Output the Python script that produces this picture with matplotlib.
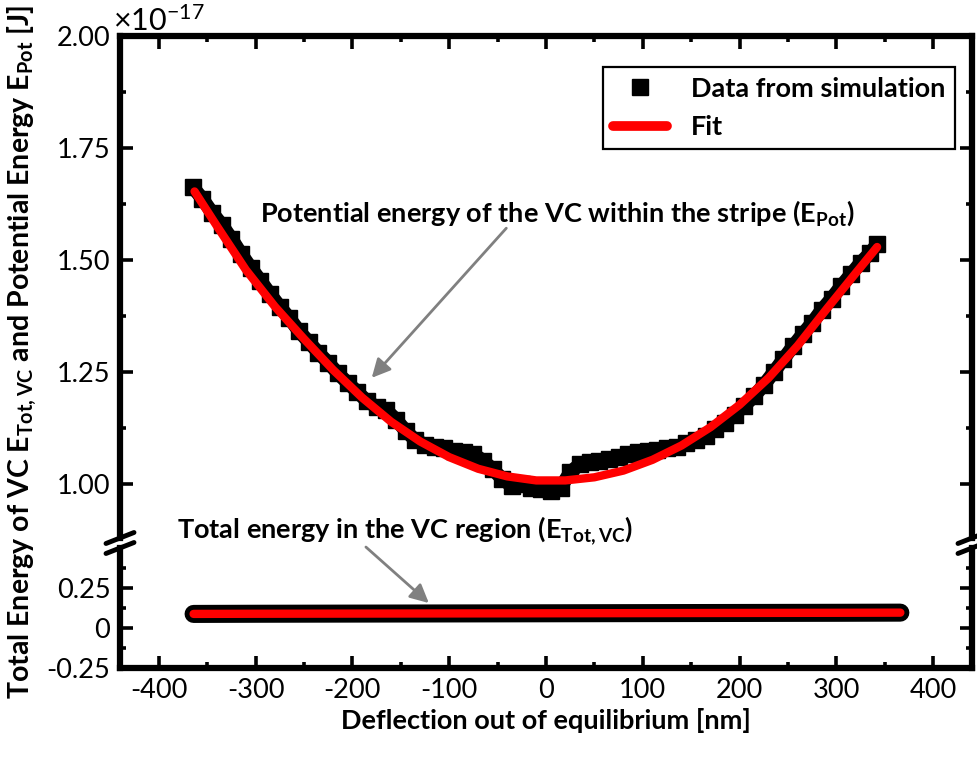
import numpy as np
import matplotlib
matplotlib.use('Agg')
import matplotlib.pyplot as plt
from matplotlib.lines import Line2D
from matplotlib.ticker import MultipleLocator, FixedLocator, FuncFormatter

plt.rcParams['font.family'] = ['Lato', 'DejaVu Sans']
plt.rcParams['mathtext.default'] = 'regular'
plt.rcParams['axes.unicode_minus'] = False

# potential energy (x1e-17 J) vs deflection [nm]
pot_x = [-365, -355, -345, -335, -325, -315, -305, -295, -285, -275, -265, -255,
         -245, -235, -225, -215, -205, -195, -185, -175, -165, -155, -145, -135,
         -125, -115, -105, -95, -85, -75, -65, -55, -45, -35, -25, -15, -5, 5,
         15, 25, 35, 45, 55, 65, 75, 85, 95, 105, 115, 125, 135, 145, 155, 165,
         175, 185, 195, 205, 215, 225, 235, 245, 255, 265, 275, 285, 295, 305,
         315, 325, 335, 342]
pot_y = [1.663, 1.637, 1.606, 1.579, 1.548, 1.514, 1.483, 1.454, 1.424, 1.396,
         1.370, 1.341, 1.317, 1.293, 1.271, 1.247, 1.226, 1.206, 1.185, 1.172,
         1.165, 1.144, 1.119, 1.098, 1.088, 1.083, 1.080, 1.074, 1.072, 1.067,
         1.052, 1.033, 1.011, 0.995, 1.001, 0.990, 0.988, 0.985, 0.992, 1.026,
         1.044, 1.050, 1.052, 1.055, 1.060, 1.067, 1.072, 1.074, 1.076, 1.080,
         1.083, 1.091, 1.098, 1.108, 1.122, 1.136, 1.155, 1.175, 1.196, 1.221,
         1.249, 1.278, 1.307, 1.334, 1.360, 1.389, 1.414, 1.442, 1.468, 1.494,
         1.516, 1.535]

pot_fit_x = [-363, -340, -310, -280, -250, -220, -190, -160, -130, -100, -70, -40,
             -10, 20, 50, 80, 110, 140, 170, 200, 230, 260, 290, 320, 342]
pot_fit_y = [1.653, 1.576, 1.478, 1.396, 1.324, 1.255, 1.193, 1.139, 1.095, 1.060,
             1.034, 1.017, 1.008, 1.008, 1.015, 1.030, 1.054, 1.086, 1.127, 1.177,
             1.237, 1.309, 1.391, 1.471, 1.529]

# total energy in VC region
tot_x = [-364, -300, -200, -100, 0, 100, 200, 300, 366]
tot_y = [0.088, 0.089, 0.090, 0.091, 0.092, 0.093, 0.094, 0.095, 0.096]
tot_fit_y = [0.088, 0.089, 0.090, 0.091, 0.092, 0.093, 0.094, 0.095, 0.096]

W, H = 978, 760
fig = plt.figure(figsize=(W / 100, H / 100), dpi=100)

def fx(px):
    return px / W

def fy(py):
    return 1 - py / H

L, R = 120, 972
ax1 = fig.add_axes([fx(L), fy(538), fx(R) - fx(L), fy(36) - fy(538)])
ax2 = fig.add_axes([fx(L), fy(668), fx(R) - fx(L), fy(548) - fy(668)])

spw = 4.5
for ax in (ax1, ax2):
    for s in ax.spines.values():
        s.set_linewidth(spw)
    ax.set_xlim(-440, 440)
    ax.xaxis.set_major_locator(MultipleLocator(100))
    ax.xaxis.set_minor_locator(MultipleLocator(50))
    ax.tick_params(which='both', direction='in', width=2.6, labelsize=19.5,
                   right=True)
    ax.tick_params(which='major', length=9, pad=7)
    ax.tick_params(which='minor', length=4.5)

ax1.spines['bottom'].set_visible(False)
ax2.spines['top'].set_visible(False)
ax1.tick_params(axis='x', which='both', bottom=False, top=True, labelbottom=False)
ax2.tick_params(axis='x', which='both', top=False, bottom=True)

ax1.set_ylim(0.8795, 2.0)
ax1.yaxis.set_major_locator(MultipleLocator(0.25))
ax1.yaxis.set_minor_locator(MultipleLocator(0.125))
ax1.yaxis.set_major_formatter(FuncFormatter(lambda v, p: '%.2f' % v))

ax2.set_ylim(-0.25, 0.5)
ax2.yaxis.set_major_locator(FixedLocator([-0.25, 0, 0.25]))
ax2.yaxis.set_minor_locator(FixedLocator([-0.125, 0.125, 0.375]))
ax2.yaxis.set_major_formatter(FuncFormatter(
    lambda v, p: '0' if abs(v) < 1e-9 else ('%.2f' % v)))

# data + fit
ax1.plot(pot_x, pot_y, color='black', lw=10, marker='s', ms=11,
         solid_capstyle='butt', zorder=2)
ax1.plot(pot_fit_x, pot_fit_y, color='red', lw=6, solid_capstyle='round', zorder=3)
ax2.plot(tot_x, tot_y, color='black', lw=13, solid_capstyle='round', zorder=2)
ax2.plot(tot_x, tot_fit_y, color='red', lw=6, solid_capstyle='round', zorder=3)

# legend
h_data = Line2D([], [], color='black', marker='s', ms=11, ls='none')
h_fit = Line2D([], [], color='red', lw=7, solid_capstyle='round')
leg = ax1.legend([h_data, h_fit], ['Data from simulation', 'Fit'],
                 loc='upper right', bbox_to_anchor=(0.98, 0.938),
                 borderaxespad=0, fancybox=False, framealpha=1,
                 edgecolor='black', prop={'size': 19.5, 'weight': 'bold'},
                 handlelength=2.0, handletextpad=0.9, borderpad=0.35,
                 labelspacing=0.55)
leg.get_frame().set_linewidth(1.6)

# annotations
ax1.text(12, 1.605, r'Potential energy of the VC within the stripe (E$_{Pot}$)',
         ha='center', va='center', fontsize=19.5, fontweight='bold')
ax1.annotate('', xy=(-180, 1.237), xytext=(-41, 1.571),
             arrowprops=dict(arrowstyle='-|>', color='#808080', lw=2,
                             mutation_scale=28, shrinkA=0, shrinkB=0))
ax2.text(-146, 0.61, r'Total energy in the VC region (E$_{Tot,VC}$)',
         ha='center', va='center', fontsize=19.5, fontweight='bold')
ax2.annotate('', xy=(-121, 0.156), xytext=(-186, 0.506),
             arrowprops=dict(arrowstyle='-|>', color='#808080', lw=2,
                             mutation_scale=28, shrinkA=0, shrinkB=0),
             annotation_clip=False)

ax1.text(-0.008, 1.0, r'$\times10^{-17}$', transform=ax1.transAxes,
         ha='left', va='bottom', fontsize=22)

ax2.set_xlabel('Deflection out of equilibrium [nm]', fontsize=19.5,
               fontweight='bold', labelpad=4)
fig.text(fx(22), fy(352),
         r'Total Energy of VC E$_{Tot,VC}$ and Potential Energy E$_{Pot}$ [J]',
         rotation=90, ha='center', va='center', fontsize=20.5,
         fontweight='bold')

# axis break marks
for xc in (L, R):
    for yc in (538, 548):
        fig.add_artist(Line2D([fx(xc - 14), fx(xc + 14)], [fy(yc + 5.5), fy(yc - 5.5)],
                              color='black', lw=3.5, solid_capstyle='round'))

fig.savefig('out.png', dpi=100)
